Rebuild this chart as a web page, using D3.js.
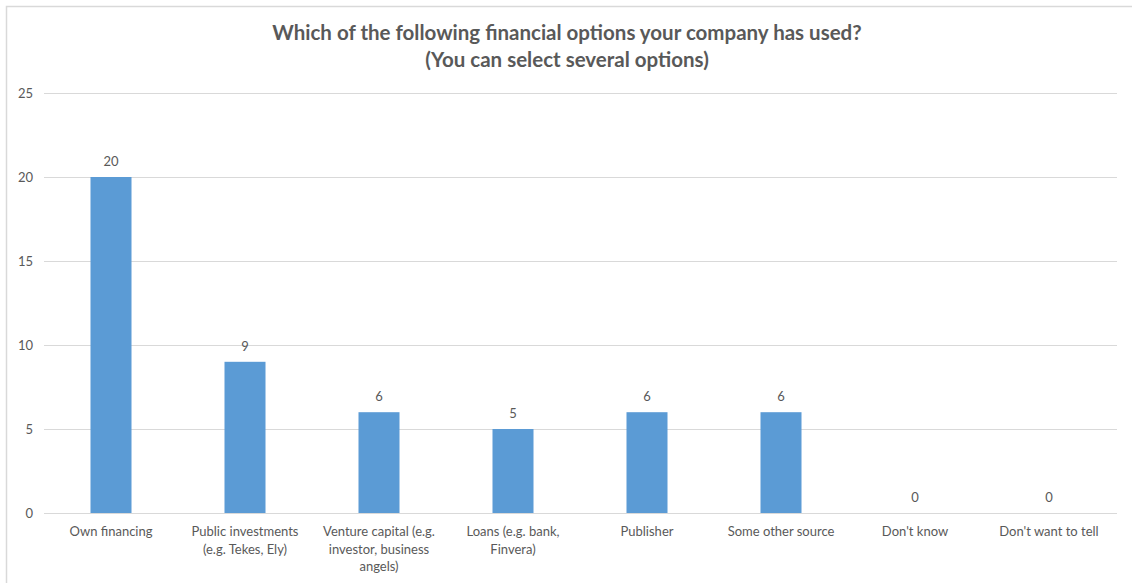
<!DOCTYPE html>
<html>
<head>
<meta charset="utf-8">
<script src="https://cdn.jsdelivr.net/npm/d3@7"></script>
<style>
  html, body { margin: 0; padding: 0; background: #fff; }
  svg { display: block; }
</style>
</head>
<body>
<svg id="chart" width="1132" height="583"></svg>
<script>
// Survey answers: number of companies per financing option
const categories = [
  "Own financing",
  "Public investments\n(e.g. Tekes, Ely)",
  "Venture capital (e.g.\ninvestor, business\nangels)",
  "Loans (e.g. bank,\nFinvera)",
  "Publisher",
  "Some other source",
  "Don't know",
  "Don't want to tell"
];
const counts = [20, 9, 6, 5, 6, 6, 0, 0];
const yTicks = [0, 5, 10, 15, 20, 25];
const titleLines = [
  "Which of the following financial options your company has used?",
  "(You can select several options)"
];

const font = "Lato, 'Open Sans', sans-serif";
const textColor = "#595959";
const svg = d3.select("#chart");

// chart frame (left and top edges)
svg.append("path")
  .attr("d", "M6.5,583 V6.5 H1132")
  .attr("fill", "none")
  .attr("stroke", "#d9d9d9")
  .attr("stroke-width", 1.5);

const plot = { left: 44, right: 1116, top: 93, bottom: 513 };

const x = d3.scaleBand()
  .domain(categories)
  .range([plot.left, plot.right])
  .paddingInner(0.694)
  .paddingOuter(0.347);

const y = d3.scaleLinear()
  .domain([0, 25])
  .range([plot.bottom, plot.top]);

// horizontal gridlines
svg.append("g")
  .selectAll("line")
  .data(yTicks)
  .join("line")
  .attr("x1", plot.left)
  .attr("x2", plot.right + 1)
  .attr("y1", d => Math.round(y(d)) + 0.5)
  .attr("y2", d => Math.round(y(d)) + 0.5)
  .attr("stroke", "#d9d9d9")
  .attr("stroke-width", 1);

// y axis labels
const yAxis = d3.axisLeft(y).tickValues(yTicks).tickSize(0).tickPadding(0);
const yG = svg.append("g")
  .attr("transform", `translate(${plot.left - 11},0)`)
  .call(yAxis);
yG.select(".domain").remove();
yG.selectAll("text")
  .attr("font-family", font)
  .attr("font-size", 13)
  .attr("fill", textColor);

// bars
svg.append("g")
  .selectAll("rect")
  .data(counts)
  .join("rect")
  .attr("x", (d, i) => x(categories[i]))
  .attr("width", x.bandwidth())
  .attr("y", d => y(d))
  .attr("height", d => y(0) - y(d))
  .attr("fill", "#5b9bd5");

// value labels
svg.append("g")
  .selectAll("text")
  .data(counts)
  .join("text")
  .attr("x", (d, i) => x(categories[i]) + x.bandwidth() / 2)
  .attr("y", d => y(d) - 11)
  .attr("text-anchor", "middle")
  .attr("font-family", font)
  .attr("font-size", 13)
  .attr("fill", textColor)
  .text(d => d);

// category labels (multi-line)
const xAxis = d3.axisBottom(x).tickSize(0).tickPadding(0);
const xG = svg.append("g")
  .attr("transform", `translate(0,${plot.bottom})`)
  .call(xAxis);
xG.select(".domain").remove();
xG.selectAll("text").each(function(d) {
  const t = d3.select(this)
    .text(null)
    .attr("y", 0)
    .attr("dy", null)
    .attr("font-family", font)
    .attr("font-size", 13)
    .attr("fill", textColor);
  d.split("\n").forEach((line, i) => {
    t.append("tspan")
      .attr("x", 0)
      .attr("y", 23 + i * 17.5)
      .text(line);
  });
});

// title
svg.append("text")
  .attr("x", 567)
  .attr("text-anchor", "middle")
  .attr("font-family", font)
  .attr("font-size", 20.5)
  .attr("font-weight", "bold")
  .attr("fill", textColor)
  .selectAll("tspan")
  .data(titleLines)
  .join("tspan")
  .attr("x", 567)
  .attr("y", (d, i) => 40 + i * 27)
  .text(d => d);
</script>
</body>
</html>
